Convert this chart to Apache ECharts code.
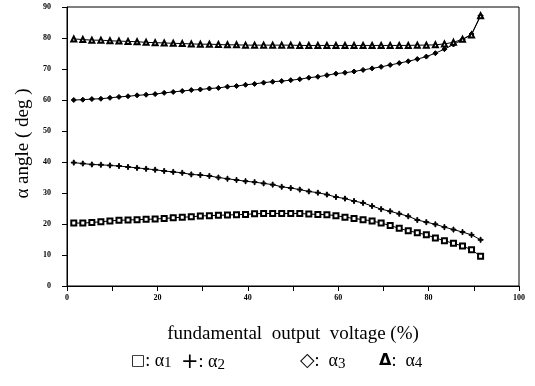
<!DOCTYPE html>
<html>
<head>
<meta charset="utf-8">
<script src="https://cdn.jsdelivr.net/npm/echarts@6/dist/echarts.min.js"></script>
<style>
  html, body { margin: 0; padding: 0; background: #fff; }
  #chart { width: 535px; height: 386px; }
</style>
</head>
<body>
<div id="chart"></div>
<script>
// Fundamental output voltage (%) at which the switching angles were computed
const voltage = [1.5, 3.5, 5.5, 7.5, 9.5, 11.5, 13.5, 15.5, 17.5, 19.5,
  21.5, 23.5, 25.5, 27.5, 29.5, 31.5, 33.5, 35.5, 37.5, 39.5,
  41.5, 43.5, 45.5, 47.5, 49.5, 51.5, 53.5, 55.5, 57.5, 59.5,
  61.5, 63.5, 65.5, 67.5, 69.5, 71.5, 73.5, 75.5, 77.5, 79.5,
  81.5, 83.5, 85.5, 87.5, 89.5, 91.5];

// Switching angles (deg)
const alpha1 = [20.3, 20.3, 20.5, 20.7, 21.0, 21.2, 21.3, 21.4, 21.5, 21.6,
  21.8, 22.0, 22.2, 22.3, 22.6, 22.7, 22.8, 22.9, 23.0, 23.1,
  23.3, 23.4, 23.4, 23.4, 23.4, 23.4, 23.2, 23.1, 23.0, 22.7,
  22.2, 21.8, 21.4, 21.0, 20.3, 19.5, 18.6, 17.8, 17.2, 16.5,
  15.5, 14.6, 13.8, 12.9, 11.7, 9.6];
const alpha2 = [39.8, 39.5, 39.2, 39.1, 38.9, 38.7, 38.4, 38.1, 37.8, 37.5,
  37.1, 36.8, 36.5, 36.0, 35.8, 35.5, 35.0, 34.6, 34.2, 33.8,
  33.5, 33.1, 32.7, 32.0, 31.6, 31.1, 30.5, 30.1, 29.5, 28.7,
  28.2, 27.4, 26.8, 25.8, 24.8, 24.1, 23.3, 22.5, 21.3, 20.6,
  19.9, 19.0, 18.2, 17.4, 16.5, 14.9];
const alpha3 = [60.0, 60.1, 60.3, 60.4, 60.7, 61.0, 61.2, 61.5, 61.7, 61.9,
  62.3, 62.6, 62.9, 63.2, 63.4, 63.7, 63.9, 64.3, 64.5, 64.9,
  65.2, 65.6, 65.9, 66.1, 66.4, 66.7, 67.2, 67.5, 68.0, 68.5,
  68.8, 69.2, 69.7, 70.2, 70.7, 71.3, 71.9, 72.5, 73.2, 74.0,
  75.1, 76.4, 77.9, 79.5, 81.3, 87.2];
const alpha4 = [79.7, 79.5, 79.3, 79.3, 79.1, 79.0, 78.9, 78.8, 78.6, 78.5,
  78.4, 78.3, 78.2, 78.1, 78.0, 78.0, 77.9, 77.8, 77.8, 77.7,
  77.7, 77.7, 77.7, 77.7, 77.7, 77.6, 77.6, 77.6, 77.6, 77.6,
  77.6, 77.6, 77.6, 77.6, 77.6, 77.6, 77.6, 77.6, 77.7, 77.7,
  77.8, 78.1, 78.6, 79.6, 81.0, 87.2];

// Legend entries: marker glyph and subscript index
const legendGlyphs = ['□', '+', '◇', 'Δ'];
const legendIndex = ['1', '2', '3', '4'];

const xTicks = { min: 0, max: 100, step: 10, labelEvery: 20 };
const yTicks = { min: 0, max: 90, step: 10 };

const SERIF = '"Liberation Serif", "DejaVu Serif", serif';
const SANS = '"DejaVu Sans", sans-serif';
const plusPath = 'path://M4,0 L6,0 L6,4 L10,4 L10,6 L6,6 L6,10 L4,10 L4,6 L0,6 L0,4 L4,4 Z';

function pairs(ys) { return voltage.map((x, i) => [x, ys[i]]); }

function makeSeries(name, ys, symbol, size) {
  return {
    name: name,
    type: 'line',
    data: pairs(ys),
    symbol: symbol,
    symbolSize: size,
    showSymbol: true,
    lineStyle: { color: '#000', width: 1 },
    itemStyle: { color: '#000', borderColor: '#000', borderWidth: 1 },
    emphasis: { disabled: true },
    animation: false,
    z: 3
  };
}

// Key line under the plot: one text block per angle
const legendLeft = [131, 181, 300, 379];
const legendSep = [': ', ': ', ':  ', ':  '];
const glyphStyle = [
  { fontFamily: SANS, fontSize: 15, fontWeight: 'bold' },
  { fontFamily: SANS, fontSize: 21, fontWeight: 'normal' },
  { fontFamily: SANS, fontSize: 19, fontWeight: 'bold' },
  { fontFamily: SANS, fontSize: 16, fontWeight: 'bold' }
];
const legendGraphics = legendGlyphs.map((g, i) => ({
  type: 'text',
  left: legendLeft[i],
  top: 352,
  silent: true,
  style: {
    text: '{g|' + g + '}{t|' + legendSep[i] + 'α}{n|' + legendIndex[i] + '}',
    fill: '#000',
    rich: {
      g: Object.assign({ fill: '#000' }, glyphStyle[i]),
      t: { fontFamily: SERIF, fontSize: 18, fill: '#000' },
      n: { fontFamily: SERIF, fontSize: 15, fill: '#000', verticalAlign: 'bottom', padding: [5, 0, 0, 0] }
    }
  }
}));

const chart = echarts.init(document.getElementById('chart'), null, { renderer: 'canvas' });

chart.setOption({
  backgroundColor: '#fff',
  animation: false,
  grid: {
    left: 67, right: 16, top: 7, bottom: 100,
    show: true, borderColor: '#000', borderWidth: 1, backgroundColor: 'transparent'
  },
  xAxis: {
    type: 'value',
    min: xTicks.min, max: xTicks.max, interval: xTicks.step,
    name: 'fundamental  output  voltage (%)',
    nameLocation: 'middle',
    nameGap: 39,
    nameTextStyle: { fontFamily: SERIF, fontSize: 19, color: '#000' },
    axisLine: { lineStyle: { color: '#000', width: 1 } },
    axisTick: { show: true, inside: false, length: 5, lineStyle: { color: '#000' } },
    axisLabel: {
      margin: 8,
      fontFamily: SERIF, fontSize: 8, fontWeight: 'bold', color: '#000',
      formatter: v => (v % xTicks.labelEvery === 0 ? String(v) : '')
    },
    splitLine: { show: false }
  },
  yAxis: {
    type: 'value',
    min: yTicks.min, max: yTicks.max, interval: yTicks.step,
    name: 'α angle ( deg )',
    nameLocation: 'middle',
    nameRotate: 90,
    nameGap: 30,
    nameTextStyle: { fontFamily: SERIF, fontSize: 19, color: '#000', padding: [0, 0, 0, 6] },
    axisLine: { show: true, lineStyle: { color: '#000', width: 1 } },
    axisTick: { show: true, inside: false, length: 5, lineStyle: { color: '#000' } },
    axisLabel: {
      margin: 16,
      fontFamily: SERIF, fontSize: 8, fontWeight: 'bold', color: '#000'
    },
    splitLine: { show: false }
  },
  graphic: legendGraphics,
  series: [
    makeSeries('α1', alpha1, 'emptyRect', 5),
    makeSeries('α2', alpha2, plusPath, 5),
    makeSeries('α3', alpha3, 'diamond', 5),
    makeSeries('α4', alpha4, 'emptyTriangle', 5)
  ]
});
</script>
</body>
</html>
